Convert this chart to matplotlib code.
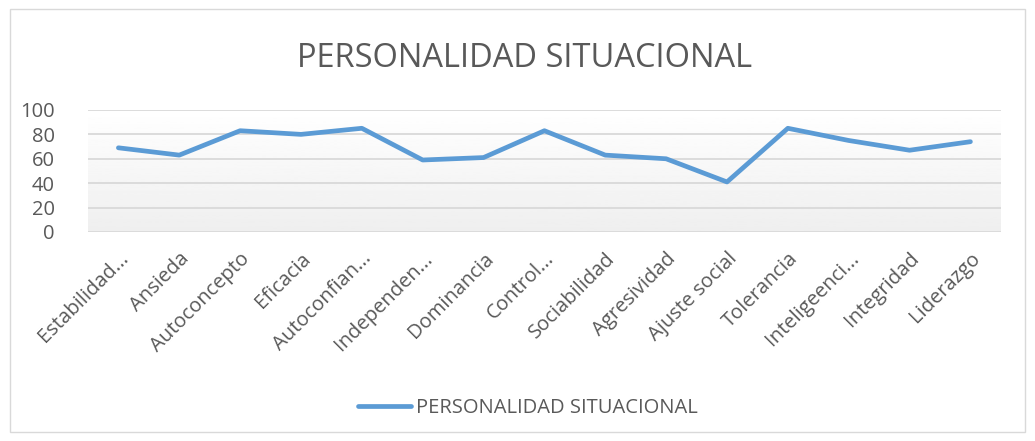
import numpy as np
import matplotlib.pyplot as plt
from matplotlib.patches import Rectangle

categorias = ["Estabilidad...", "Ansieda", "Autoconcepto", "Eficacia", "Autoconfian...",
              "Independen...", "Dominancia", "Control...", "Sociabilidad", "Agresividad",
              "Ajuste social", "Tolerancia", "Inteligeenci...", "Integridad", "Liderazgo"]
valores = [69, 63, 83, 80, 85, 59, 61, 83, 63, 60, 41, 85, 75, 67, 74]
serie = "PERSONALIDAD SITUACIONAL"

plt.rcParams['font.family'] = ['Open Sans', 'DejaVu Sans']
gris = "#595959"

fig = plt.figure(figsize=(10.35, 4.41), dpi=100)
ax = fig.add_axes([0.085, 0.474, 0.882, 0.2766])

x = np.arange(len(categorias))
ax.plot(x, valores, color="#5b9bd5", linewidth=3.4, solid_capstyle="round",
        solid_joinstyle="round", label=serie, zorder=3)

# fondo degradado
grad = np.linspace(0.935, 1.0, 100).reshape(-1, 1)
ax.imshow(grad, extent=[-0.5, len(categorias) - 0.5, 0, 100], aspect="auto",
          cmap="gray", vmin=0, vmax=1, origin="lower", zorder=0)

ax.set_xlim(-0.5, len(categorias) - 0.5)
ax.set_ylim(0, 100)
ax.set_yticks(range(0, 101, 20))
ax.grid(axis="y", color="#d9d9d9", linewidth=1.3, zorder=1)
ax.set_axisbelow(True)
for s in ax.spines.values():
    s.set_visible(False)
ax.tick_params(length=0, colors=gris, labelsize=14.5)
ax.tick_params(axis="y", pad=24)
ax.tick_params(axis="x", pad=12)
ax.set_xticks(x)
ax.set_xticklabels(categorias, rotation=45, ha="right", rotation_mode="anchor")

fig.text(0.507, 0.868, serie, ha="center", va="center", fontsize=23.5, color=gris)

fig.legend(loc="center", bbox_to_anchor=(0.51, 0.075), frameon=False, fontsize=14.5,
           labelcolor=gris, handlelength=2.6, handletextpad=0.25)

fig.patches.append(Rectangle((0.0097, 0.02), 0.981, 0.96, transform=fig.transFigure,
                             fill=False, edgecolor="#d9d9d9", linewidth=1))

fig.savefig("out.png", dpi=100)
